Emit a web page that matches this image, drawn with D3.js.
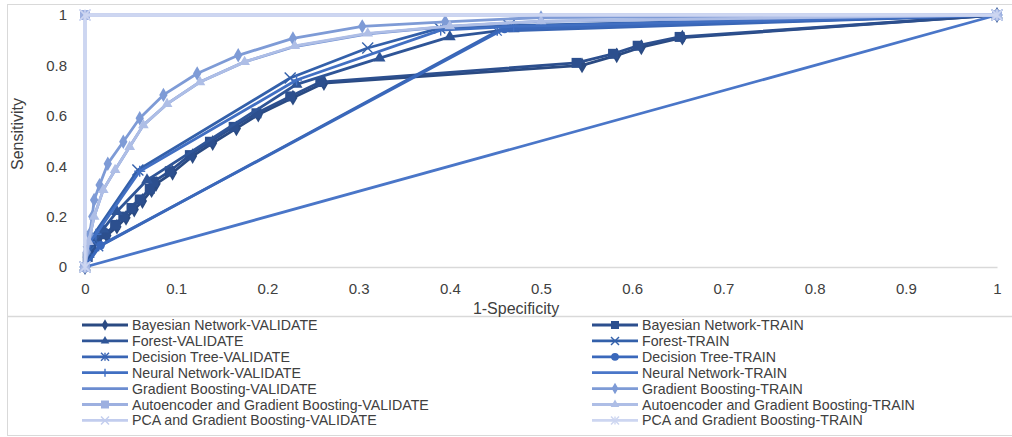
<!DOCTYPE html>
<html>
<head>
<meta charset="utf-8">
<title>ROC curves</title>
<script src="https://d3js.org/d3.v7.min.js"></script>
<style>
  html, body { margin: 0; padding: 0; background: #fff; }
  svg { display: block; }
  text { font-family: "Liberation Sans", Arial, sans-serif; fill: #404040; }
</style>
</head>
<body>
<div id="chart"></div>
<script>
// series names, in legend order (left column = VALIDATE, right column = TRAIN)
var seriesNames = [
  "Bayesian Network-VALIDATE", "Bayesian Network-TRAIN",
  "Forest-VALIDATE", "Forest-TRAIN",
  "Decision Tree-VALIDATE", "Decision Tree-TRAIN",
  "Neural Network-VALIDATE", "Neural Network-TRAIN",
  "Gradient Boosting-VALIDATE", "Gradient Boosting-TRAIN",
  "Autoencoder and Gradient Boosting-VALIDATE", "Autoencoder and Gradient Boosting-TRAIN",
  "PCA and Gradient Boosting-VALIDATE", "PCA and Gradient Boosting-TRAIN"
];

// [1-specificity, sensitivity] points
var bayesValidate = [[0,0],[0.003,0.035],[0.008,0.075],[0.014,0.11],[0.024,0.125],[0.035,0.16],[0.045,0.195],[0.054,0.228],[0.063,0.262],[0.073,0.305],[0.078,0.33],[0.096,0.374],[0.118,0.44],[0.14,0.492],[0.166,0.55],[0.19,0.605],[0.228,0.672],[0.262,0.73],[0.545,0.80],[0.583,0.84],[0.61,0.872],[0.655,0.91],[1,1]];
var bayesTrain = [[0,0],[0.003,0.04],[0.007,0.08],[0.013,0.115],[0.022,0.13],[0.033,0.167],[0.042,0.2],[0.051,0.234],[0.06,0.268],[0.071,0.31],[0.075,0.338],[0.093,0.38],[0.115,0.444],[0.137,0.497],[0.163,0.556],[0.188,0.61],[0.225,0.677],[0.258,0.734],[0.539,0.81],[0.579,0.846],[0.606,0.878],[0.652,0.913],[1,1]];
var forestValidate = [[0,0],[0.004,0.05],[0.01,0.1],[0.02,0.15],[0.035,0.22],[0.068,0.345],[0.232,0.725],[0.323,0.829],[0.40,0.913],[0.47,0.945],[1,1]];
var forestTrain = [[0,0],[0.004,0.06],[0.008,0.12],[0.058,0.385],[0.225,0.75],[0.31,0.869],[0.389,0.948],[0.465,0.958],[1,1]];
var treeValidate = [[0,0],[0.015,0.08],[0.452,0.936],[1,1]];
var treeTrain = [[0,0],[0.017,0.086],[0.46,0.945],[1,1]];
var neuralValidate = [[0,0],[0.005,0.1],[0.012,0.13],[0.06,0.38],[0.232,0.742],[0.39,0.94],[0.47,0.955],[1,1]];
var neuralTrain = [[0,0],[1,1]];
var gboostValidate = [[0,0],[0.004,0.1],[0.01,0.2],[0.02,0.306],[0.033,0.385],[0.049,0.477],[0.064,0.563],[0.09,0.647],[0.126,0.734],[0.175,0.814],[0.23,0.875],[0.31,0.925],[0.4,0.955],[0.5,0.975],[1,1]];
var gboostTrain = [[0,0],[0.002,0.06],[0.005,0.13],[0.008,0.2],[0.01,0.266],[0.016,0.325],[0.025,0.41],[0.042,0.497],[0.06,0.59],[0.086,0.683],[0.123,0.768],[0.168,0.84],[0.228,0.907],[0.304,0.955],[0.395,0.973],[0.5,0.99],[1,1]];
var autoValidate = [[0,0],[0,1],[1,1]];
var autoTrain = [[0,0],[0.004,0.1],[0.01,0.2],[0.02,0.306],[0.033,0.385],[0.049,0.477],[0.064,0.563],[0.09,0.647],[0.126,0.734],[0.175,0.814],[0.23,0.877],[0.31,0.927],[0.4,0.956],[0.5,0.976],[1,1]];
var pcaValidate = [[0,0],[0,1],[1,1]];
var pcaTrain = [[0,0],[0,1],[1,1]];

var seriesData = [bayesValidate, bayesTrain, forestValidate, forestTrain, treeValidate, treeTrain,
  neuralValidate, neuralTrain, gboostValidate, gboostTrain, autoValidate, autoTrain, pcaValidate, pcaTrain];

var xTicks = [0, 0.1, 0.2, 0.3, 0.4, 0.5, 0.6, 0.7, 0.8, 0.9, 1];
var yTicks = [0, 0.2, 0.4, 0.6, 0.8, 1];

// styling (monochromatic blue, dark to light)
var colours = ["#2a4a82", "#2c4f8e", "#2f5597", "#3360aa", "#3965b4", "#3a68bb", "#416fc2",
  "#4a76c8", "#6b8cd0", "#7e9bd6", "#9db0e0", "#aebee6", "#c2cdee", "#cdd6f1"];
var markers = ["diamond", "square", "triangle", "x", "star", "circle", "plus",
  "none", "none", "diamond", "square", "triangle", "x", "star"];

var W = 1012, H = 437;
var svg = d3.select("#chart").append("svg").attr("width", W).attr("height", H);

// chart frame
svg.append("rect").attr("x", 7.5).attr("y", 4.5).attr("width", 1010).attr("height", 431)
  .attr("fill", "none").attr("stroke", "#d9d9d9");
svg.append("line").attr("x1", 7).attr("x2", W).attr("y1", 316.5).attr("y2", 316.5)
  .attr("stroke", "#d9d9d9").attr("stroke-width", 1.5);

var x = d3.scaleLinear().domain([0, 1]).range([85, 997]);
var y = d3.scaleLinear().domain([0, 1]).range([267, 15]);
var fmt = function (d) { return String(+d.toFixed(1)); };

var xAxis = svg.append("g").attr("transform", "translate(0,267)")
  .call(d3.axisBottom(x).tickValues(xTicks).tickSize(0).tickPadding(16).tickFormat(fmt));
xAxis.select(".domain").attr("stroke", "#d9d9d9").attr("stroke-width", 1.5);
xAxis.selectAll("text").attr("font-size", 15).attr("fill", "#404040").attr("font-family", null);

var yAxis = svg.append("g").attr("transform", "translate(85,0)")
  .call(d3.axisLeft(y).tickValues(yTicks).tickSize(0).tickPadding(18).tickFormat(fmt));
yAxis.select(".domain").remove();
yAxis.selectAll("text").attr("font-size", 15).attr("fill", "#404040").attr("font-family", null);

svg.append("text").attr("x", 516).attr("y", 314).attr("text-anchor", "middle")
  .attr("font-size", 16).text("1-Specificity");
svg.append("text").attr("transform", "translate(23,134) rotate(-90)").attr("text-anchor", "middle")
  .attr("font-size", 16).text("Sensitivity");

function drawMarker(g, type, cx, cy, col, s) {
  if (type === "none") return;
  var r = s / 2;
  if (type === "x" || type === "star" || type === "plus") {
    var segs = [];
    if (type !== "plus") segs.push([-r, -r, r, r], [-r, r, r, -r]);
    if (type !== "x") segs.push([0, -r, 0, r]);
    if (type === "plus") segs.push([-r, 0, r, 0]);
    segs.forEach(function (s2) {
      g.append("line").attr("x1", cx + s2[0]).attr("y1", cy + s2[1])
        .attr("x2", cx + s2[2]).attr("y2", cy + s2[3])
        .attr("stroke", col).attr("stroke-width", 1.4);
    });
    return;
  }
  var sym = { diamond: d3.symbolDiamond, square: d3.symbolSquare, triangle: d3.symbolTriangle, circle: d3.symbolCircle }[type];
  var area = { diamond: s * s * 0.6, square: s * s, triangle: s * s * 0.5, circle: s * s * 0.75 }[type];
  g.append("path").attr("d", d3.symbol().type(sym).size(area)())
    .attr("transform", "translate(" + cx + "," + cy + ")").attr("fill", col);
}

var line = d3.line().x(function (d) { return x(d[0]); }).y(function (d) { return y(d[1]); });

var markSize = [11, 10, 11, 11, 9, 9, 11, 0, 0, 10, 10, 10, 11, 11];
var plot = svg.append("g");
seriesData.forEach(function (pts, i) {
  var g = plot.append("g");
  g.append("path").attr("d", line(pts))
    .attr("fill", "none").attr("stroke", colours[i]).attr("stroke-width", 2.8)
    .attr("stroke-linejoin", "round");
  pts.forEach(function (p) {
    drawMarker(g, markers[i], x(p[0]), y(p[1]), colours[i], markSize[i]);
  });
});

// legend
var legend = svg.append("g");
seriesNames.forEach(function (name, i) {
  var col = i % 2, row = Math.floor(i / 2);
  var lx = col === 0 ? 82 : 592, ly = 325 + row * 15.9;
  var g = legend.append("g");
  g.append("line").attr("x1", lx).attr("x2", lx + 46).attr("y1", ly).attr("y2", ly)
    .attr("stroke", colours[i]).attr("stroke-width", 2.8);
  drawMarker(g, markers[i], lx + 23, ly, colours[i], 8);
  g.append("text").attr("x", lx + 50).attr("y", ly + 5).attr("font-size", 14.2).text(name);
});
</script>
</body>
</html>
